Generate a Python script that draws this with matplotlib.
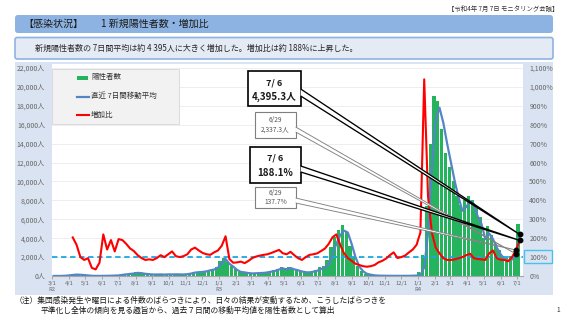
import matplotlib
matplotlib.use('Agg')
import matplotlib.pyplot as plt
from matplotlib.patches import FancyBboxPatch, Polygon, Rectangle
from matplotlib.lines import Line2D
import numpy as np
import pandas as pd

plt.rcParams['font.family'] = ['Noto Sans CJK JP', 'DejaVu Sans']

# weekly points (Wednesdays), 2020-03-04 .. 2022-07-06
dates = pd.date_range('2020-03-04', '2022-07-06', freq='7D')

# 7-day moving average of new cases
avg7 = [6, 8, 8, 25, 60, 110, 150, 130, 100, 60,
        20, 10, 10, 17, 20, 30, 45, 60, 120, 170,
        220, 260, 330, 300, 230, 190, 160, 160, 170, 150,
        170, 165, 175, 170, 160, 190, 260, 360, 400, 430,
        490, 600, 680, 880, 1350, 1800, 1300, 1000, 650, 430,
        380, 310, 270, 290, 310, 330, 380, 460, 540, 690,
        800, 700, 850, 700, 600, 480, 400, 380, 460, 560,
        730, 900, 1200, 2300, 3400, 4300, 4800, 4600, 3400, 2000,
        1000, 500, 230, 140, 70, 40, 30, 25, 20, 20,
        18, 16, 18, 20, 25, 45, 120, 900, 4500, 11500,
        16500, 17800, 16200, 14000, 12000, 10000, 8300, 6900, 7300, 7900,
        7600, 6300, 5500, 3900, 4500, 3900, 3000, 2300, 1800, 1600,
        1750, 2337.3, 4395.3]

# daily new cases, one representative bar per week
daily = [8, 10, 12, 40, 80, 140, 180, 140, 110, 60,
         25, 12, 12, 20, 22, 35, 55, 70, 150, 200,
         250, 300, 380, 330, 250, 200, 170, 170, 180, 160,
         180, 180, 190, 180, 170, 210, 300, 420, 450, 480,
         560, 680, 760, 1000, 1600, 1900, 1450, 1100, 700, 450,
         400, 330, 300, 320, 340, 360, 420, 520, 600, 760,
         900, 800, 1000, 780, 660, 520, 440, 420, 520, 680,
         900, 1100, 1700, 3100, 4100, 4900, 5400, 4700, 3200, 2000,
         1050, 540, 260, 150, 75, 40, 30, 28, 22, 22,
         20, 18, 20, 22, 30, 60, 400, 2200, 7400, 14000,
         19000, 18500, 15500, 13000, 11500, 10000, 8500, 7500, 8000, 8500,
         8000, 7200, 6200, 4000, 5300, 4300, 3400, 2700, 2100, 1900,
         2100, 2600, 5500]

# week-over-week ratio (%)
nan = np.nan
ratio = [nan, nan, nan, nan, nan, 204, 165, 100, 85, 94,
         43, 35, 70, 220, 140, 190, 130, 195, 190, 170,
         146, 132, 110, 95, 85, 88, 85, 95, 110, 100,
         115, 130, 105, 100, 105, 115, 140, 150, 135, 122,
         115, 112, 125, 135, 160, 210, 90, 70, 72, 76,
         68, 80, 95, 103, 108, 112, 115, 122, 130, 138,
         120, 115, 128, 110, 94, 85, 100, 112, 115, 120,
         132, 145, 170, 205, 220, 165, 120, 95, 80, 65,
         58, 52, 49, 52, 58, 72, 80, 92, 110, 125,
         95, 100, 108, 125, 140, 165, 230, 1040, 420, 230,
         150, 120, 94, 85, 85, 88, 94, 100, 110, 118,
         94, 90, 88, 85, 120, 135, 94, 86, 85, 78,
         100, 137.7, 188.1]

tick_dates = pd.date_range('2020-03-01', '2022-07-01', freq='MS')
era = {pd.Timestamp('2020-03-01'): 'R2', pd.Timestamp('2021-01-01'): 'R3',
       pd.Timestamp('2022-01-01'): 'R4'}
tick_labels = [f'{d.month}/1' + ('\n' + era[d] if d in era else '') for d in tick_dates]

W, H = 569, 320
fig = plt.figure(figsize=(W / 100, H / 100), dpi=100, facecolor='white')


def fx(x):
    return x / W


def fy(y):
    return 1 - y / H


# header / summary / panel
fig.add_artist(FancyBboxPatch((fx(15), fy(33)), fx(538), 18 / H,
                              boxstyle='round,pad=0,rounding_size=0.005',
                              mutation_aspect=W / H, fc='#8DB3E2', ec='none'))
fig.text(fx(23), fy(24), '【感染状況】', fontsize=7.2, va='center', color='#1a1a1a')
fig.text(fx(101), fy(24), '1 新規陽性者数・増加比', fontsize=7.2, va='center', color='#1a1a1a')
fig.text(fx(558), fy(9), '【令和4年 7月 7日 モニタリング会議】', fontsize=4.6,
         ha='right', va='center', color='#333333')

fig.add_artist(FancyBboxPatch((fx(15), fy(59)), fx(538), 21.5 / H,
                              boxstyle='round,pad=0,rounding_size=0.004',
                              mutation_aspect=W / H, fc='#E4EBF5', ec='#8DB3E2', lw=1.2))
fig.text(fx(35), fy(48.5), '新規陽性者数の 7日間平均は約 4 395人に大きく増加した。増加比は約 188%に上昇した。',
         fontsize=5.8, va='center', color='#262626')

fig.add_artist(Rectangle((fx(15), fy(295)), fx(538), 233 / H, fc='#DAE3F1', ec='none', zorder=-1))

# main axes
ax = fig.add_axes([fx(52), fy(276), fx(471), 212 / H])
ax2 = ax.twinx()
ytop = 22000 + 4 * 22000 / 208
ax.set_ylim(0, ytop)
ax2.set_ylim(0, ytop / 20)
ax.set_xlim(pd.Timestamp('2020-03-01'), pd.Timestamp('2022-07-12'))

ax.bar(dates - pd.Timedelta(days=3), daily, width=6, color='#25B35E', lw=0, zorder=2)
ax.plot(dates, avg7, color='#5585C5', lw=1.6, zorder=3)
ax2.axhline(100, color='#1EA7E1', ls=(0, (3, 2)), lw=1.3, zorder=2)
ax2.plot(dates, ratio, color='#FF0000', lw=1.5, zorder=3)

ax.set_yticks(range(0, 22001, 2000))
ax.set_yticklabels([f'{v:,}人' for v in range(0, 22001, 2000)])
ax2.set_yticks(range(0, 1101, 100))
ax2.set_yticklabels([f'{v:,}%' for v in range(0, 1101, 100)])
ax.set_xticks(tick_dates)
ax.set_xticklabels(tick_labels)
ax.tick_params(axis='y', length=0, pad=5, labelsize=5, labelcolor='#666666')
ax2.tick_params(axis='y', length=0, pad=4.5, labelsize=5, labelcolor='#666666')
ax.tick_params(axis='x', length=2, width=0.6, color='#999999', pad=1.5, labelsize=4.2,
               labelcolor='#666666')
ax.grid(axis='y', color='#EBEBEB', lw=0.6)
ax.set_axisbelow(True)
for s in ['left', 'right', 'top']:
    ax.spines[s].set_visible(False)
ax.spines['bottom'].set_color('#A6A6A6')
ax.spines['bottom'].set_linewidth(0.8)
for s in ax2.spines.values():
    s.set_visible(False)

# 100% marker box on right axis
fig.add_artist(Rectangle((fx(524), fy(263)), 28 / W, 13 / H, fc='none', ec='#4BC0EE', lw=1))

# legend
fig.add_artist(Rectangle((fx(52), fy(124)), fx(127), 55 / H, fc='#F2F2F2', ec='#D6D6D6', lw=0.6, zorder=2))
fig.add_artist(Rectangle((fx(77), fy(80)), fx(11), 4.5 / H, fc='#25B35E', ec='none', zorder=3))
fig.add_artist(Line2D([fx(77), fx(89)], [fy(96.5), fy(96.5)], color='#5585C5', lw=1.6, zorder=3))
fig.add_artist(Line2D([fx(77), fx(89)], [fy(115), fy(115)], color='#FF0000', lw=1.5, zorder=3))
for yy, lab in [(77.5, '陽性者数'), (96, '直近 7日間移動平均'), (114.5, '増加比')]:
    fig.text(fx(91), fy(yy), lab, fontsize=5.4, va='center', color='#333333', zorder=3)

# callouts
to_fig = fig.transFigure.inverted()


def tip(axis, d, v):
    return to_fig.transform(axis.transData.transform((matplotlib.dates.date2num(d), v)))


d76 = dates[-1]
d629 = dates[-2]
callouts = [
    # box (x0, y0, x1, y1), tail y's, axis, value, date, edge, lw, lines
    ((248, 71, 301, 106), (89, 96), ax, avg7[-1], d76, '#000000', 1.2,
     [('7/ 6', 83, 6.5, 'bold'), (f'{avg7[-1]:,.1f}人', 97, 7, 'bold')]),
    ((255, 112, 296, 138), (127, 132), ax, avg7[-2], d629, '#7F7F7F', 0.8,
     [('6/29', 120, 4.8, 'normal'), (f'{avg7[-2]:,.1f}人', 130, 4.8, 'normal')]),
    ((250, 147, 301, 183), (166, 172), ax2, ratio[-1], d76, '#000000', 1.2,
     [('7/ 6', 158, 6.5, 'bold'), (f'{ratio[-1]:.1f}%', 173, 7, 'bold')]),
    ((255, 187, 296, 208), (198, 203), ax2, ratio[-2], d629, '#7F7F7F', 0.8,
     [('6/29', 193, 4.8, 'normal'), (f'{ratio[-2]:.1f}%', 202.5, 4.8, 'normal')]),
]
for (x0, y0, x1, y1), (t1, t2), axis, val, d, ec, lw, lines in callouts:
    fig.add_artist(Rectangle((fx(x0), fy(y1)), (x1 - x0) / W, (y1 - y0) / H,
                             fc='white', ec=ec, lw=lw, zorder=4))
    tx, ty = tip(axis, d, val)
    fig.add_artist(Polygon([(fx(x1 - 0.3), fy(t1)), (tx, ty), (fx(x1 - 0.3), fy(t2))],
                           closed=False, fc='white', ec=ec, lw=lw * 0.8, zorder=5))
    fig.add_artist(Line2D([tx], [ty], marker='o', ms=3.2, color='black', zorder=6))
    for txt, yy, fs, fw in lines:
        fig.text(fx((x0 + x1) / 2), fy(yy), txt, fontsize=fs, fontweight=fw, ha='center',
                 va='center', color='#1a1a1a' if fw == 'bold' else '#555555', zorder=6)

# note
fig.text(fx(15), fy(301), '（注）集団感染発生や曜日による件数のばらつきにより、日々の結果が変動するため、こうしたばらつきを',
         fontsize=5.6, va='center', color='#1a1a1a')
fig.text(fx(40.5), fy(311), '平準化し全体の傾向を見る趣旨から、過去７日間の移動平均値を陽性者数として算出',
         fontsize=5.6, va='center', color='#1a1a1a')
fig.text(fx(556), fy(310), '1', fontsize=4.8, va='center', color='#333333')

fig.savefig('out.png', dpi=100, facecolor='white')
